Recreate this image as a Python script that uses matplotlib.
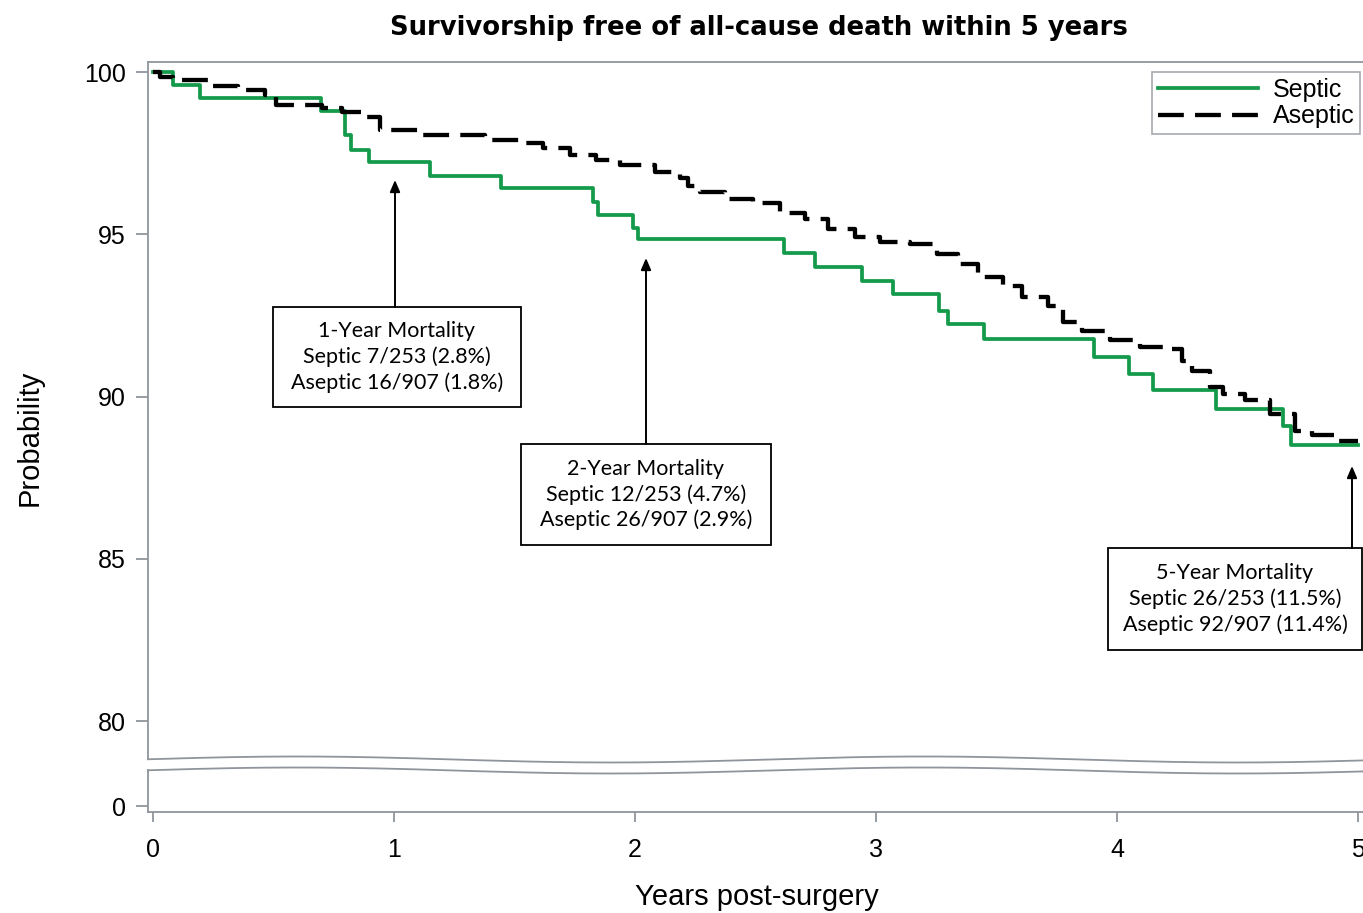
import numpy as np
import matplotlib
matplotlib.use("Agg")
import matplotlib.pyplot as plt
from matplotlib.patches import Rectangle
from matplotlib.transforms import blended_transform_factory

# ---------------- data ----------------
septic_t = [0, 0.083, 0.195, 0.697, 0.797, 0.822, 0.897, 1.149, 1.443, 1.826, 1.846,
            1.992, 2.013, 2.62, 2.745, 2.94, 3.07, 3.26, 3.30, 3.45, 3.905, 4.05,
            4.15, 4.41, 4.687, 4.72, 5.0]
septic_s = [100, 99.6, 99.2, 98.8, 98.05, 97.6, 97.23, 96.8, 96.41, 96.0, 95.6,
            95.2, 94.84, 94.42, 93.99, 93.55, 93.15, 92.65, 92.22, 91.77, 91.23, 90.68,
            90.19, 89.63, 89.1, 88.49, 88.49]

aseptic_t = [0, 0.03, 0.083, 0.237, 0.353, 0.465, 0.51, 0.70, 0.784, 0.88, 0.94,
             1.116, 1.378, 1.523, 1.618, 1.73, 1.838, 1.938, 2.083, 2.187, 2.22, 2.27,
             2.373, 2.49, 2.60, 2.705, 2.80, 2.913, 3.017, 3.14, 3.253, 3.34, 3.423,
             3.527, 3.606, 3.714, 3.776, 3.855, 3.971, 4.095, 4.199, 4.27, 4.31,
             4.386, 4.44, 4.531, 4.635, 4.739, 4.81, 4.917, 5.0]
aseptic_s = [100, 99.85, 99.75, 99.58, 99.44, 99.29, 98.98, 98.9, 98.78, 98.62, 98.2,
             98.06, 97.9, 97.8, 97.65, 97.44, 97.3, 97.13, 96.92, 96.72, 96.5, 96.3,
             96.1, 95.95, 95.64, 95.48, 95.17, 94.92, 94.76, 94.71, 94.4, 94.07, 93.68,
             93.42, 93.06, 92.78, 92.3, 92.03, 91.73, 91.52, 91.47, 91.1, 90.8,
             90.29, 90.09, 89.88, 89.47, 88.95, 88.8, 88.64, 88.64]

series_labels = ["Septic", "Aseptic"]
y_ticks_top = [80, 85, 90, 95, 100]
y_ticks_bottom = [0]
x_ticks = [0, 1, 2, 3, 4, 5]

title = "Survivorship free of all-cause death within 5 years"
xlabel = "Years post-surgery"
ylabel = "Probability"

notes = [
    "1-Year Mortality\nSeptic 7/253 (2.8%)\nAseptic 16/907 (1.8%)",
    "2-Year Mortality\nSeptic 12/253 (4.7%)\nAseptic 26/907 (2.9%)",
    "5-Year Mortality\nSeptic 26/253 (11.5%)\nAseptic 92/907 (11.4%)",
]

# ---------------- layout ----------------
W, H = 1363, 913
fig = plt.figure(figsize=(W / 100, H / 100), dpi=100)
fig.patch.set_facecolor("white")

GRAY = "#8f959b"
GREEN = "#149a4b"
TICKFONT = "Liberation Sans"

def fx(px):
    return px / W

def fy(px):
    return 1 - px / H

left_px, right_px = 148, 1366
top_top, top_bot = 62, 759
bot_top, bot_bot = 770, 812

ax = fig.add_axes([fx(left_px), fy(top_bot), fx(right_px - left_px), (top_bot - top_top) / H])
axb = fig.add_axes([fx(left_px), fy(bot_bot), fx(right_px - left_px), (bot_bot - bot_top) / H])
axb.patch.set_alpha(0)

xmin = -5 / 241
xmax = (right_px - 153) / 241
ppu = 32.45
ax.set_xlim(xmin, xmax)
axb.set_xlim(xmin, xmax)
ax.set_ylim(80 - (top_bot - 721) / ppu, 100 + (72 - top_top) / ppu)
axb.set_ylim(-1, 6)

# curves
ax.step(septic_t, septic_s, where="post", color=GREEN, lw=2.7, label=series_labels[0], zorder=3)
ax.step(aseptic_t, aseptic_s, where="post", color="black", lw=3.1, dashes=[6, 2.6],
        label=series_labels[1], zorder=4)

# spines
for a in (ax, axb):
    for s in a.spines.values():
        s.set_color(GRAY)
        s.set_linewidth(1.3)
ax.spines["bottom"].set_visible(False)
ax.spines["right"].set_visible(False)
axb.spines["top"].set_visible(False)
axb.spines["right"].set_visible(False)

ax.set_xticks([])
ax.set_yticks(y_ticks_top)
ax.set_yticklabels([str(v) for v in y_ticks_top], fontsize=18, family=TICKFONT)
axb.set_yticks(y_ticks_bottom)
axb.set_yticklabels([str(v) for v in y_ticks_bottom], fontsize=18, family=TICKFONT)
axb.set_xticks(x_ticks)
axb.set_xticklabels([str(v) for v in x_ticks], fontsize=18, family=TICKFONT)
ax.tick_params(axis="y", length=9, width=1.3, color=GRAY, pad=7)
axb.tick_params(axis="y", length=9, width=1.3, color=GRAY, pad=7)
axb.tick_params(axis="x", length=7.5, width=1.3, color=GRAY, pad=11)

# wavy break lines
tt = np.linspace(xmin, xmax, 400)
wave = 759.5 - 3.0 * np.cos(2 * np.pi * (tt - 0.6) / 2.6)
tr = blended_transform_factory(ax.transData, fig.transFigure)
for off in (0, 11):
    ax.plot(tt, fy(wave + off), color=GRAY, lw=1.3, transform=tr, clip_on=False, zorder=1)

# labels
fig.text(fx(759), fy(28), title, ha="center", va="center", fontsize=18.6,
         fontweight="bold", family="DejaVu Sans")
fig.text(fx(30), fy(438), ylabel, ha="center", va="center", rotation=90,
         fontsize=21, family=TICKFONT)
fig.text(fx(757), fy(897), xlabel, ha="center", va="center", fontsize=21, family=TICKFONT)

# legend
leg = ax.legend(loc="upper right", bbox_to_anchor=(fx(1360), fy(72)),
                bbox_transform=fig.transFigure, borderaxespad=0, frameon=True,
                fancybox=False, prop={"family": TICKFONT, "size": 18},
                handlelength=4.0, handletextpad=0.6, labelspacing=0.12,
                borderpad=0.22)
leg.get_frame().set_edgecolor(GRAY)
leg.get_frame().set_linewidth(1.2)

# annotation boxes and arrows
def s_of(px):
    return 100 - (px - 72) / ppu

def t_of(px):
    return (px - 153) / 241

boxes = [(273, 521, 307, 407), (521, 771, 444, 545), (1108, 1362, 548, 650)]
arrows = [(395, 307, 180), (646, 444, 258), (1352, 548, 466)]
for (x0, x1, y0, y1), txt in zip(boxes, notes):
    r = Rectangle((t_of(x0), s_of(y1)), t_of(x1) - t_of(x0), s_of(y0) - s_of(y1),
                  facecolor="white", edgecolor="black", lw=1.3, clip_on=False, zorder=5)
    ax.add_patch(r)
    ax.text((t_of(x0) + t_of(x1)) / 2, (s_of(y0) + s_of(y1)) / 2, txt, ha="center",
            va="center", fontsize=15.5, family="Lato", linespacing=1.3, zorder=6,
            clip_on=False)
for xa, ytail, yhead in arrows:
    ax.annotate("", xy=(t_of(xa), s_of(yhead)), xytext=(t_of(xa), s_of(ytail)),
                arrowprops=dict(arrowstyle="-|>,head_length=0.7,head_width=0.3",
                                color="black", lw=1.4, shrinkA=0, shrinkB=0),
                annotation_clip=False, zorder=6)

fig.savefig("out.png", dpi=100)
